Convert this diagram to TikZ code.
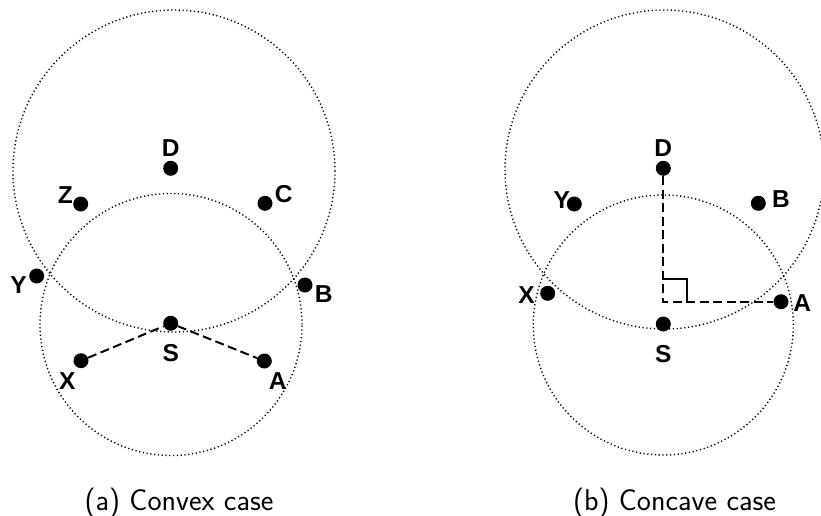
\documentclass[tikz,border=0pt]{standalone}
\usepackage{fontspec}
\newfontfamily\lblfont{Liberation Sans}

\tikzset{
	site/.style={circle, fill=black, inner sep=0pt, minimum size=15pt},
	rangeline/.style={black, line width=1.4pt, dash pattern=on 1.2pt off 2.6pt},
	hopline/.style={black, line width=2pt, dash pattern=on 9pt off 4.5pt},
	every label/.style={font=\lblfont\bfseries\fontsize{24.5}{28}\selectfont, inner sep=0pt},
	subcap/.style={font=\sffamily\fontsize{30}{34}\selectfont, anchor=base}
}

\begin{document}
\begin{tikzpicture}[x=1pt, y=-1pt]
			\useasboundingbox (0,0) rectangle (821,516);
			\clip (0,0) rectangle (821,516);
			
			% (a) convex case
			\coordinate (bigA) at (174,171);		% centre of the range of D
			\coordinate (smallA) at (171,324.5);	% centre of the range of S
			\draw[rangeline] (bigA) circle[radius=161pt];
			\draw[rangeline] (smallA) circle[radius=131pt];
			
			\node[site, label={[label distance=4pt]above:D}] (Da) at (170.7,168.3) {};
			\node[site, label={[anchor=south east]west:Z}] (Za) at (80.7,204) {};
			\node[site, label={[anchor=south west, label distance=2pt]east:C}] (Ca) at (265,203.3) {};
			\node[site, label={[anchor=north east, label distance=2pt]west:Y}] (Ya) at (36.7,276) {};
			\node[site, label={[anchor=north west, label distance=2pt]east:B}] (Ba) at (305,285) {};
			\node[site, label={[label distance=13pt]below:S}] (Sa) at (170.7,323.3) {};
			\node[site, label={[anchor=north east, xshift=0pt, yshift=-6pt]south west:X}] (Xa) at (81,360.7) {};
			\node[site, label={[anchor=north west, xshift=-1pt, yshift=-6pt]south east:A}] (Aa) at (264.3,361) {};
			
			\draw[hopline] (Xa) -- (Sa) -- (Aa);
			
			% (b) concave case
			\coordinate (bigB) at (664.5,169.5);
			\coordinate (smallB) at (663.3,325);
			\draw[rangeline] (bigB) circle[radius=159.5pt];
			\draw[rangeline] (smallB) circle[radius=130pt];
			
			\node[site, label={[label distance=4pt]above:D}] (Db) at (663.3,168.3) {};
			\node[site, label={[anchor=east, xshift=3.5pt, yshift=4pt]west:Y}] (Yb) at (574.3,204) {};
			\node[site, label={[anchor=west, xshift=6pt, yshift=4pt]east:B}] (Bb) at (758.3,203.3) {};
			\node[site, label={[anchor=east, xshift=-5pt, yshift=-1.5pt]west:X}] (Xb) at (547.7,293.3) {};
			\node[site, label={[anchor=west, xshift=4.5pt, yshift=-1.5pt]east:A}] (Ab) at (781,301.7) {};
			\node[site, label={[label distance=13pt]below:S}] (Sb) at (663.3,324) {};
			\coordinate (Fb) at (663.3,301.7);		% foot of the perpendicular
			
			\draw[hopline] (Db) -- (Fb) -- (Ab);
			\draw[black, line width=1.6pt] (Fb) ++(0,-22.5) -| ++(23.5,22.5);	% right angle
			
			% captions
			\node[subcap] (capa) at (179,510) {(a) Convex case};
			\node[subcap] (capb) at (674.5,510) {(b) Concave case};
			
\end{tikzpicture}
\end{document}
